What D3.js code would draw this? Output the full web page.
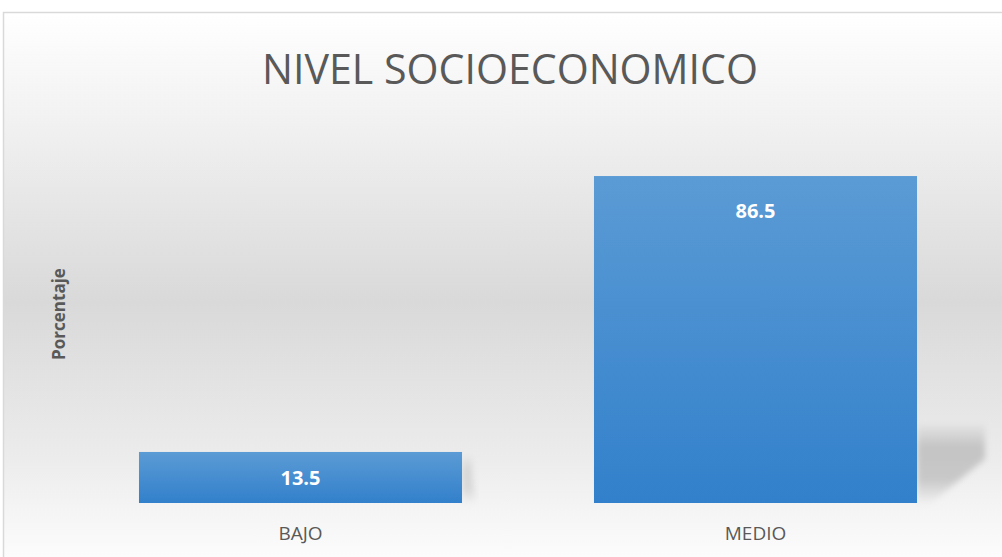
<!DOCTYPE html>
<html><head><meta charset="utf-8">
<script src="https://cdn.jsdelivr.net/npm/d3@7"></script>
<style>body{margin:0;background:#fff}svg{display:block}</style>
</head><body>
<svg id="c" width="1002" height="557"></svg>
<script>
const categories = ["BAJO", "MEDIO"];
const values = [13.5, 86.5];
const chartTitle = "NIVEL SOCIOECONOMICO";
const yTitle = "Porcentaje";

const W = 1002, H = 557;
const svg = d3.select("#c");
const defs = svg.append("defs");

const bg = defs.append("linearGradient").attr("id","bg").attr("x1",0).attr("y1",0).attr("x2",0).attr("y2",1);
[[0,"#ffffff"],[0.2,"#f1f1f1"],[0.52,"#d9d9d9"],[0.8,"#ececec"],[1,"#fefefe"]].forEach(s=>bg.append("stop").attr("offset",s[0]).attr("stop-color",s[1]));

const bar = defs.append("linearGradient").attr("id","bar").attr("x1",0).attr("y1",0).attr("x2",0).attr("y2",1);
[[0,"#5b9bd5"],[1,"#3280cb"]].forEach(s=>bar.append("stop").attr("offset",s[0]).attr("stop-color",s[1]));

const sh = defs.append("linearGradient").attr("id","sh").attr("x1",0).attr("y1",0).attr("x2",0).attr("y2",1);
[[0,"#e6e6e6"],[0.3,"#c4c4c4"],[0.7,"#c8c8c8"],[1,"#f0f0f0"]].forEach(s=>sh.append("stop").attr("offset",s[0]).attr("stop-color",s[1]));
defs.append("filter").attr("id","blur").attr("x","-20%").attr("y","-20%").attr("width","140%").attr("height","140%")
  .append("feGaussianBlur").attr("stdDeviation",3);

// chart area background
svg.append("rect").attr("x",3.5).attr("y",12.5).attr("width",W).attr("height",H).attr("fill","url(#bg)")
  .attr("stroke","#d9d9d9").attr("stroke-width",1.5);

const plot = {left: 73, right: 983, top: 125, bottom: 503};
const x = d3.scaleBand().domain(categories).range([plot.left, plot.right]).paddingInner(0.29).paddingOuter(0.145);
const y = d3.scaleLinear().domain([0,100]).range([plot.bottom, plot.top]);

const data = categories.map((c,i)=>({c, v: values[i]}));

// shadows
const g = svg.append("g");
data.forEach(d=>{
  const x1 = x(d.c)+x.bandwidth(), top = y(d.v), b = plot.bottom;
  const h = b - top;
  const sTop = Math.max(top + 4, b - Math.min(h, 80));
  const dx = d.v > 50 ? 68 : 10;
  g.append("path")
    .attr("d", `M${x1},${sTop} L${x1+dx},${sTop} L${x1+dx},${b-Math.min(h,80)*0.55} L${x1+14},${b} L${x1},${b} Z`)
    .attr("fill","url(#sh)").attr("filter","url(#blur)").attr("opacity", d.v>50?1:0.6);
});

g.selectAll("rect.bar").data(data).join("rect").attr("class","bar")
  .attr("x",d=>x(d.c)).attr("y",d=>y(d.v)).attr("width",x.bandwidth()).attr("height",d=>y(0)-y(d.v))
  .attr("fill","url(#bar)");

g.selectAll("text.val").data(data).join("text").attr("class","val")
  .attr("x",d=>x(d.c)+x.bandwidth()/2)
  .attr("y",d=> d.v > 50 ? y(d.v)+42 : (y(d.v)+y(0))/2 + 8)
  .attr("text-anchor","middle").attr("fill","#fff").attr("font-weight","bold")
  .attr("font-family","'Open Sans', 'Liberation Sans', sans-serif").attr("font-size",20)
  .text(d=>d.v.toFixed(1));

// x axis (labels only)
const xAxis = svg.append("g").attr("transform",`translate(0,${plot.bottom})`)
  .call(d3.axisBottom(x).tickSize(0).tickPadding(20));
xAxis.select(".domain").remove();
xAxis.selectAll("text").attr("fill","#595959").attr("font-size",19)
  .attr("font-family","'Liberation Sans Narrow','Open Sans',sans-serif")
  .attr("dy","0.9em");

// title
svg.append("text").attr("x",510).attr("y",84).attr("text-anchor","middle")
  .attr("fill","#595959").attr("font-size",42)
  .attr("font-family","'Liberation Sans Narrow','Open Sans',sans-serif")
  .attr("textLength",496).attr("lengthAdjust","spacingAndGlyphs")
  .text(chartTitle);

// y title
svg.append("text").attr("transform",`translate(65,${314}) rotate(-90)`)
  .attr("text-anchor","middle").attr("fill","#595959").attr("font-weight","bold")
  .attr("font-size",17).attr("font-family","'Open Sans','Liberation Sans',sans-serif")
  .text(yTitle);
</script>
</body></html>
